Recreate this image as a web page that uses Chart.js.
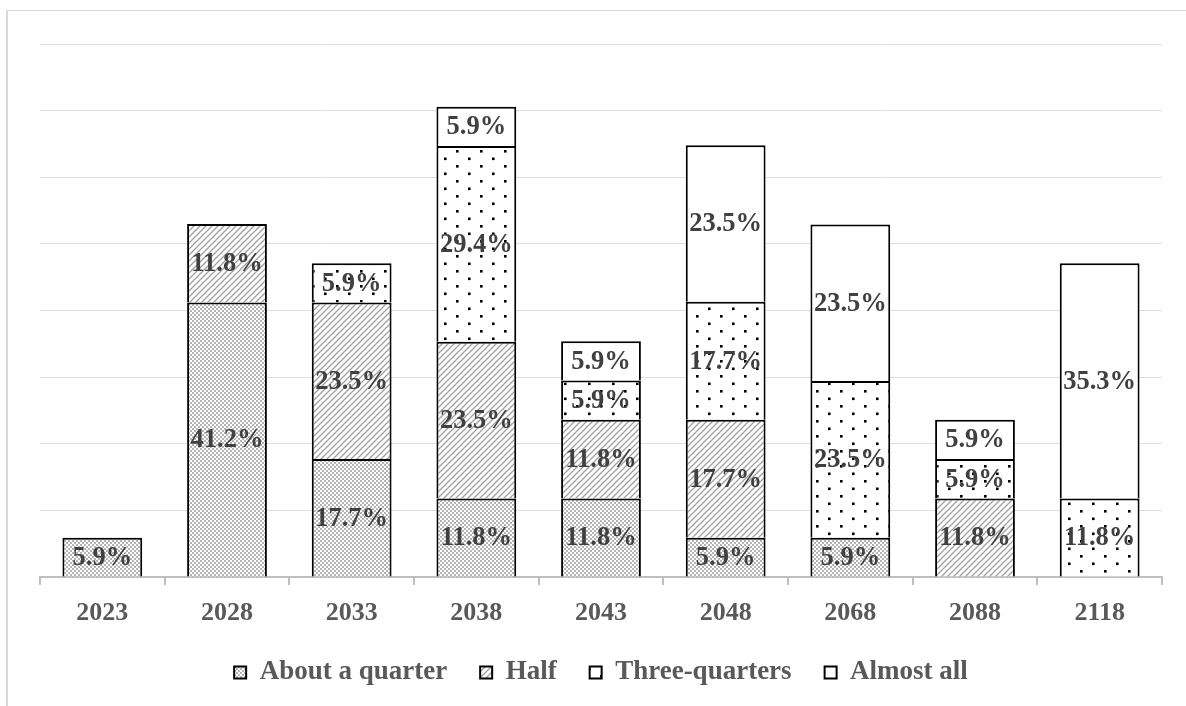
<!DOCTYPE html>
<html>
<head>
<meta charset="utf-8">
<script src="https://cdn.jsdelivr.net/npm/chart.js@4.4.1/dist/chart.umd.min.js"></script>
<style>
  html, body { margin: 0; padding: 0; background: #ffffff; }
  #wrap { position: relative; width: 1186px; height: 706px; overflow: hidden; }
  #frame { position: absolute; left: 6px; top: 10px; width: 1300px; height: 800px;
           border-left: 2px solid #d9d9d9; border-top: 1px solid #d9d9d9; }
  canvas { position: absolute; left: 0; top: 0; }
</style>
</head>
<body>
<div id="wrap">
  <div id="frame"></div>
  <canvas id="chart" width="1186" height="706"></canvas>
</div>
<script>
// Survey years (x categories)
const years = ['2023', '2028', '2033', '2038', '2043', '2048', '2068', '2088', '2118'];

// Share of respondents (%) per answer; null = no segment
const aboutQuarter  = [5.9, 41.2, 17.7, 11.8, 11.8, 5.9, 5.9, null, null];
const half          = [null, 11.8, 23.5, 23.5, 11.8, 17.7, null, 11.8, null];
const threeQuarters = [null, null, 5.9, 29.4, 5.9, 17.7, 23.5, 5.9, 11.8];
const almostAll     = [null, null, null, 5.9, 5.9, 23.5, 23.5, 5.9, 35.3];

const seriesNames = ['About a quarter', 'Half', 'Three-quarters', 'Almost all'];

// Y axis range and step
const yMin = 0, yMax = 80, yStep = 10;

// ---- fill patterns ----
function makeTile(w, h, draw) {
  const c = document.createElement('canvas');
  c.width = w; c.height = h;
  const g = c.getContext('2d');
  g.fillStyle = '#ffffff';
  g.fillRect(0, 0, w, h);
  draw(g);
  return document.getElementById('chart').getContext('2d').createPattern(c, 'repeat');
}

// small checkerboard
const checkerFill = makeTile(4, 4, g => {
  g.fillStyle = '#b4b4b4';
  g.fillRect(0, 0, 2, 2);
  g.fillRect(2, 2, 2, 2);
});

// light upward diagonal lines
const diagFill = makeTile(6, 6, g => {
  g.strokeStyle = '#a0a0a0';
  g.lineWidth = 1.3;
  g.beginPath();
  g.moveTo(-1, 7); g.lineTo(7, -1);
  g.moveTo(-4, 4); g.lineTo(4, -4);
  g.moveTo(2, 10); g.lineTo(10, 2);
  g.stroke();
});

// staggered black dots
const dotFill = makeTile(24, 15, g => {
  g.fillStyle = '#000000';
  g.fillRect(0, 0, 2.6, 2.6);
  g.fillRect(12, 7.5, 2.6, 2.6);
});

const plainFill = '#ffffff';

// ---- value labels drawn at the centre of each segment ----
const segmentLabels = {
  id: 'segmentLabels',
  afterDatasetsDraw(chart) {
    const ctx = chart.ctx;
    ctx.save();
    ctx.font = 'bold 26.5px "Liberation Serif"';
    ctx.fillStyle = '#404040';
    ctx.textAlign = 'center';
    ctx.textBaseline = 'middle';
    chart.data.datasets.forEach((ds, di) => {
      const meta = chart.getDatasetMeta(di);
      if (meta.hidden) return;
      meta.data.forEach((bar, i) => {
        const v = ds.data[i];
        if (v === null || v === undefined) return;
        const cy = (bar.y + bar.base) / 2;
        ctx.fillText(v.toFixed(1) + '%', bar.x, cy + 1);
      });
    });
    ctx.restore();
  }
};

// each segment keeps its top edge; the one below supplies no extra line
const common = {
  borderColor: '#000000',
  borderWidth: { top: 2, bottom: 0, left: 2, right: 2 },
  borderSkipped: false,
  barPercentage: 0.64,
  categoryPercentage: 1.0
};

new Chart(document.getElementById('chart'), {
  type: 'bar',
  data: {
    labels: years,
    datasets: [
      Object.assign({ label: seriesNames[0], data: aboutQuarter,  backgroundColor: checkerFill }, common),
      Object.assign({ label: seriesNames[1], data: half,          backgroundColor: diagFill }, common),
      Object.assign({ label: seriesNames[2], data: threeQuarters, backgroundColor: dotFill }, common),
      Object.assign({ label: seriesNames[3], data: almostAll,     backgroundColor: plainFill }, common)
    ]
  },
  options: {
    responsive: false,
    animation: false,
    devicePixelRatio: 1,
    layout: { padding: { left: 40, right: 24, top: 44, bottom: 10 } },
    plugins: {
      title: { display: false },
      tooltip: { enabled: false },
      legend: {
        position: 'bottom',
        labels: {
          boxWidth: 12,
          boxHeight: 12,
          padding: 33,
          color: '#595959',
          generateLabels(chart) {
            return Chart.defaults.plugins.legend.labels.generateLabels(chart).map(item => {
              item.lineWidth = 2;
              item.strokeStyle = '#000000';
              return item;
            });
          },
          font: { family: 'Liberation Serif', size: 27, weight: 'bold' }
        }
      }
    },
    scales: {
      x: {
        stacked: true,
        offset: true,
        afterFit(scale) { scale.height = 49; },
        grid: {
          display: true,
          offset: true,
          drawOnChartArea: false,
          drawTicks: true,
          tickLength: 8,
          color: '#bfbfbf',
          lineWidth: 2
        },
        border: { display: true, color: '#bfbfbf', width: 2 },
        ticks: {
          color: '#595959',
          padding: 12.5,
          font: { family: 'Liberation Serif', size: 26, weight: 'bold' }
        }
      },
      y: {
        stacked: true,
        min: yMin,
        max: yMax,
        ticks: { display: false, stepSize: yStep },
        border: { display: false },
        grid: { color: '#dedede', lineWidth: 1, drawTicks: false }
      }
    }
  },
  plugins: [segmentLabels]
});
</script>
</body>
</html>
